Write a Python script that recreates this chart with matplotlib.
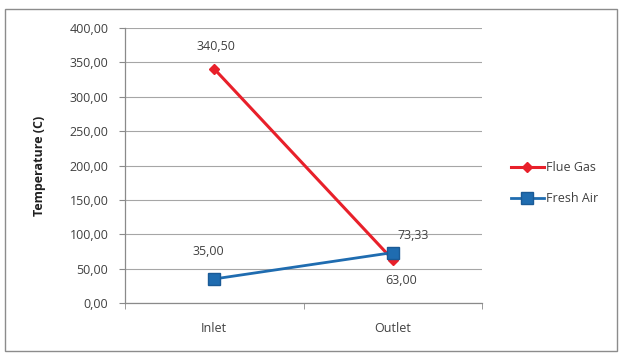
import matplotlib.pyplot as plt
from matplotlib.patches import Rectangle
from matplotlib.ticker import FuncFormatter

# Temperatures at the heat exchanger ends
positions = ["Inlet", "Outlet"]
flue_gas = [340.50, 63.00]
fresh_air = [35.00, 73.33]
y_ticks = [0, 50, 100, 150, 200, 250, 300, 350, 400]

plt.rcParams["font.family"] = ["Open Sans", "DejaVu Sans"]
FS = 9


def comma(v):
    return f"{v:.2f}".replace(".", ",")


fig = plt.figure(figsize=(6.22, 3.54), dpi=100)
fig.patch.set_facecolor("white")

# frame around the whole chart
W, H = 622, 354
fig.patches.append(Rectangle((5 / W, 1 - 351 / H), 612 / W, 342 / H,
                             transform=fig.transFigure, fill=False,
                             edgecolor="#8c8c8c", linewidth=1.0))

ax = fig.add_axes([125 / W, 1 - 303 / H, 357 / W, 275 / H])
x = list(range(len(positions)))

ax.plot(x, flue_gas, color="#e8202a", linewidth=2.2, marker="D",
        markersize=5.5, markeredgecolor="#e8202a", label="Flue Gas", zorder=3)
ax.plot(x, fresh_air, color="#1f6cb0", linewidth=2.0, marker="s",
        markersize=8.5, markeredgecolor="#1a5a96", label="Fresh Air", zorder=4)

label_kw = dict(ha="center", va="center", fontsize=FS, color="#404040",
                textcoords="offset points")
ax.annotate(comma(flue_gas[0]), (x[0], flue_gas[0]), xytext=(1, 16), **label_kw)
ax.annotate(comma(flue_gas[1]), (x[1], flue_gas[1]), xytext=(6, -15), **label_kw)
ax.annotate(comma(fresh_air[0]), (x[0], fresh_air[0]), xytext=(-4, 20), **label_kw)
ax.annotate(comma(fresh_air[1]), (x[1], fresh_air[1]), xytext=(15, 12), **label_kw)

ax.set_xlim(-0.5, len(positions) - 0.5)
ax.set_ylim(0, 400)
ax.set_yticks(y_ticks)
ax.yaxis.set_major_formatter(FuncFormatter(lambda v, _: comma(v)))
ax.set_xticks(x)
ax.set_xticklabels(positions)
ax.set_xticks([-0.5, 0.5, 1.5], minor=True)

ax.grid(axis="y", color="#a6a6a6", linewidth=0.8)
ax.set_axisbelow(True)
for side in ("top", "right"):
    ax.spines[side].set_visible(False)
for side in ("left", "bottom"):
    ax.spines[side].set_color("#8a8a8a")
    ax.spines[side].set_linewidth(0.9)

ax.tick_params(axis="y", direction="out", length=4, color="#8a8a8a",
               labelsize=FS, labelcolor="#404040", pad=8)
ax.tick_params(axis="x", which="major", length=0, labelsize=FS,
               labelcolor="#404040", pad=14)
ax.tick_params(axis="x", which="minor", direction="out", length=4,
               color="#8a8a8a")

ax.set_ylabel("Temperature (C)", fontsize=FS, fontweight="bold",
              color="#202020", labelpad=17)

ax.legend(loc="center left", bbox_to_anchor=(1.05, 0.435), frameon=False,
          fontsize=FS, handlelength=2.6, handletextpad=0.2,
          labelspacing=1.45, labelcolor="#404040")

fig.savefig("out.png", dpi=100)
